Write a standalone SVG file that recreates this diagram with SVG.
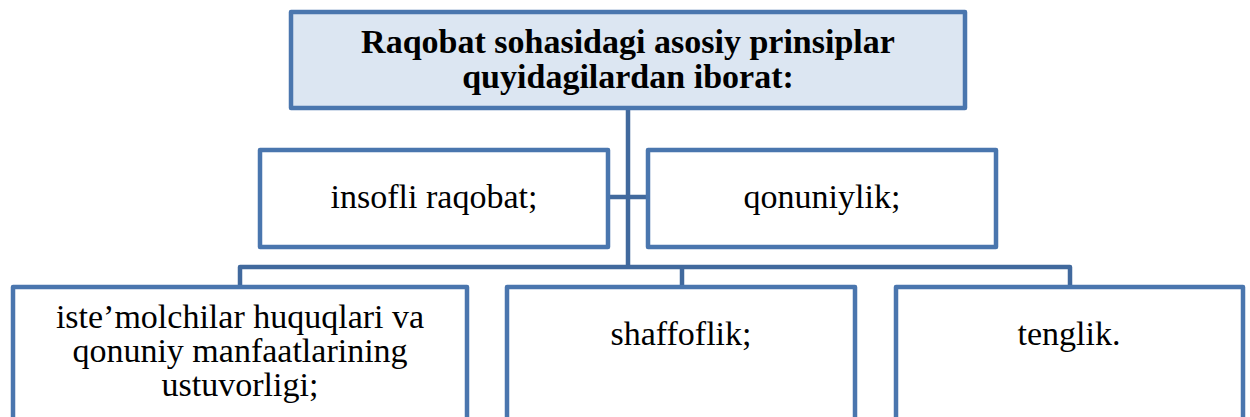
<svg xmlns="http://www.w3.org/2000/svg" width="1250" height="417" viewBox="0 0 1250 417">
<style>
.box{fill:#ffffff;stroke:#4a76ae;stroke-width:4.5;stroke-linejoin:round}
.top{fill:#dce6f2}
.conn{fill:none;stroke:#41699d;stroke-width:4.5;stroke-linejoin:round;stroke-linecap:butt}
.t{fill:#000000;text-anchor:middle;font-family:"Liberation Serif","Times New Roman",serif;font-size:34px}
.b{font-weight:bold}
</style>
<rect width="1250" height="417" fill="#ffffff"/>
<g id="connectors">
<path class="conn" d="M628,108 V267"/>
<path class="conn" d="M608,197 H648"/>
<path class="conn" d="M240,287 V267 H1070 V287"/>
<path class="conn" d="M682,267 V287"/>
</g>
<g id="node-top">
<rect class="box top" x="291" y="12" width="674" height="96"/>
<text class="t b" x="628" y="53">Raqobat sohasidagi asosiy prinsiplar</text>
<text class="t b" x="628" y="88">quyidagilardan iborat:</text>
</g>
<g id="node-insofli">
<rect class="box" x="260" y="150" width="348" height="97"/>
<text class="t" x="434" y="208">insofli raqobat;</text>
</g>
<g id="node-qonuniylik">
<rect class="box" x="648" y="150" width="348" height="97"/>
<text class="t" x="822" y="208">qonuniylik;</text>
</g>
<g id="node-istemolchilar">
<rect class="box" x="13" y="287" width="454" height="150"/>
<text class="t" x="240" y="328">iste’molchilar huquqlari va</text>
<text class="t" x="240" y="362">qonuniy manfaatlarining</text>
<text class="t" x="240" y="396">ustuvorligi;</text>
</g>
<g id="node-shaffoflik">
<rect class="box" x="507" y="287" width="348" height="150"/>
<text class="t" x="681" y="345">shaffoflik;</text>
</g>
<g id="node-tenglik">
<rect class="box" x="896" y="287" width="347" height="150"/>
<text class="t" x="1069" y="345">tenglik.</text>
</g>
</svg>
